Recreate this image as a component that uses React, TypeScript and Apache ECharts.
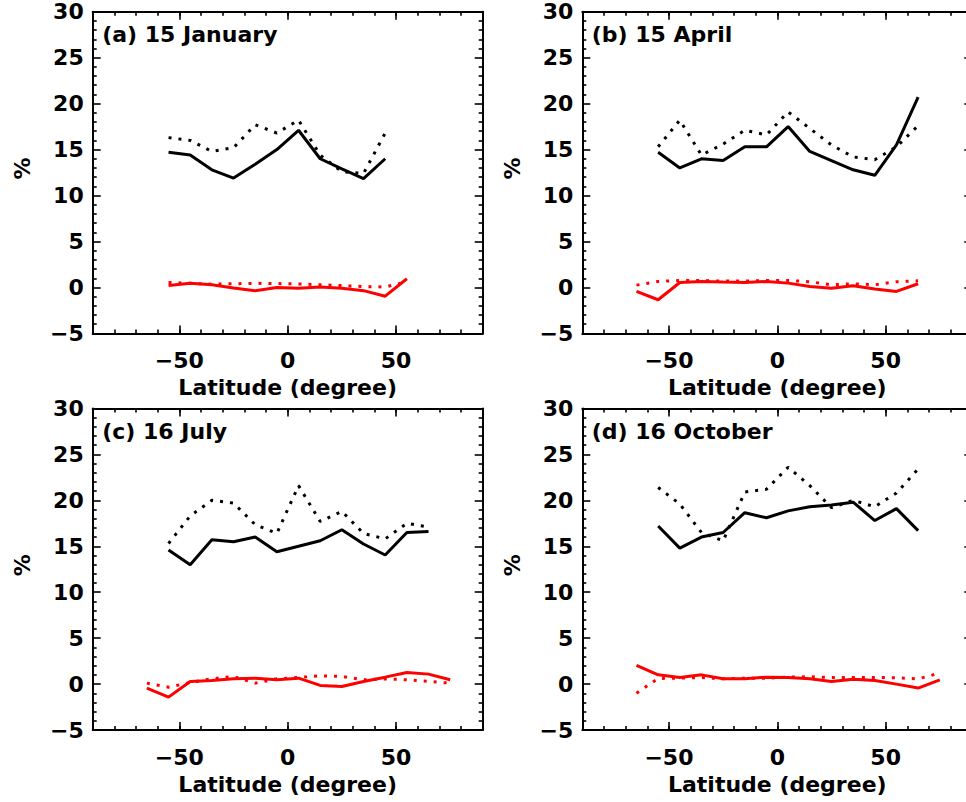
import React, { useEffect, useRef } from 'react';
import * as echarts from 'echarts';

// ---------- Data ----------
const LAT_A_BLACK = [-55, -45, -35, -25, -15, -5, 5, 15, 25, 35, 45];
const LAT_A_RED = [-55, -45, -35, -25, -15, -5, 5, 15, 25, 35, 45, 55];
const LAT_BCD_BLACK = [-55, -45, -35, -25, -15, -5, 5, 15, 25, 35, 45, 55, 65];
const LAT_B_RED = [-65, -55, -45, -35, -25, -15, -5, 5, 15, 25, 35, 45, 55, 65];
const LAT_CD_RED = [-65, -55, -45, -35, -25, -15, -5, 5, 15, 25, 35, 45, 55, 65, 75];

// (a) 15 January
const JAN_BLACK_SOLID = [14.7, 14.4, 12.8, 11.9, 13.4, 15.0, 17.1, 14.0, 12.9, 11.85, 14.0];
const JAN_BLACK_DOTTED = [16.3, 16.0, 14.8, 15.2, 17.7, 16.8, 18.2, 14.4, 12.6, 12.4, 16.8];
const JAN_RED_SOLID = [0.2, 0.45, 0.3, -0.05, -0.35, 0.0, -0.1, 0.05, -0.1, -0.35, -0.95, 0.95];
const JAN_RED_DOTTED = [0.55, 0.45, 0.35, 0.4, 0.45, 0.42, 0.38, 0.3, 0.2, 0.1, 0.05, 0.6];

// (b) 15 April
const APR_BLACK_SOLID = [14.7, 13.0, 14.0, 13.8, 15.3, 15.3, 17.5, 14.8, 13.8, 12.8, 12.2, 15.5, 20.7];
const APR_BLACK_DOTTED = [15.3, 18.2, 14.4, 15.6, 17.1, 16.6, 19.1, 17.3, 15.5, 14.2, 13.9, 15.3, 17.6];
const APR_RED_SOLID = [-0.43, -1.34, 0.54, 0.65, 0.58, 0.54, 0.65, 0.47, 0.1, -0.1, 0.18, -0.18, -0.43, 0.4];
const APR_RED_DOTTED = [0.25, 0.65, 0.76, 0.76, 0.69, 0.69, 0.76, 0.76, 0.62, 0.29, 0.4, 0.29, 0.62, 0.72];

// (c) 16 July
const JUL_BLACK_SOLID = [14.6, 13.0, 15.7, 15.5, 16.0, 14.4, 15.0, 15.6, 16.8, 15.25, 14.05, 16.5, 16.6];
const JUL_BLACK_DOTTED = [15.3, 18.3, 20.0, 19.7, 17.35, 16.4, 21.6, 17.7, 18.8, 16.4, 15.8, 17.5, 17.1];
const JUL_RED_SOLID = [-0.43, -1.41, 0.29, 0.4, 0.58, 0.65, 0.47, 0.65, -0.14, -0.25, 0.29, 0.76, 1.27, 1.09, 0.47];
const JUL_RED_DOTTED = [0.11, -0.33, 0.18, 0.58, 0.83, 0.11, 0.58, 0.72, 0.9, 0.83, 0.47, 0.58, 0.47, 0.29, 0.11];

// (d) 16 October
const OCT_BLACK_SOLID = [17.2, 14.8, 16.0, 16.5, 18.65, 18.1, 18.85, 19.3, 19.5, 19.8, 17.8, 19.1, 16.7];
const OCT_BLACK_DOTTED = [21.4, 19.6, 16.5, 15.6, 20.9, 21.2, 23.6, 21.6, 19.2, 20.0, 19.3, 20.8, 23.4];
const OCT_RED_SOLID = [2.03, 1.01, 0.72, 1.01, 0.58, 0.58, 0.76, 0.72, 0.58, 0.29, 0.54, 0.4, 0.0, -0.43, 0.47];
const OCT_RED_DOTTED = [-0.98, 0.62, 0.65, 0.72, 0.58, 0.65, 0.65, 0.76, 0.8, 0.72, 0.72, 0.72, 0.7, 0.58, 1.2];

const PANEL_TITLES = ['(a) 15 January', '(b) 15 April', '(c) 16 July', '(d) 16 October'];
const X_MAJOR_TICKS = [-50, 0, 50];
const X_AXIS_NAME = 'Latitude (degree)';
const Y_AXIS_NAME = '%';

const PANELS = [
  { title: PANEL_TITLES[0], blackLat: LAT_A_BLACK, redLat: LAT_A_RED, bs: JAN_BLACK_SOLID, bd: JAN_BLACK_DOTTED, rs: JAN_RED_SOLID, rd: JAN_RED_DOTTED },
  { title: PANEL_TITLES[1], blackLat: LAT_BCD_BLACK, redLat: LAT_B_RED, bs: APR_BLACK_SOLID, bd: APR_BLACK_DOTTED, rs: APR_RED_SOLID, rd: APR_RED_DOTTED },
  { title: PANEL_TITLES[2], blackLat: LAT_BCD_BLACK, redLat: LAT_CD_RED, bs: JUL_BLACK_SOLID, bd: JUL_BLACK_DOTTED, rs: JUL_RED_SOLID, rd: JUL_RED_DOTTED },
  { title: PANEL_TITLES[3], blackLat: LAT_BCD_BLACK, redLat: LAT_CD_RED, bs: OCT_BLACK_SOLID, bd: OCT_BLACK_DOTTED, rs: OCT_RED_SOLID, rd: OCT_RED_DOTTED },
];

// ---------- Layout ----------
const FONT_FAMILY = '"DejaVu Sans", sans-serif';
const FONT_SIZE = 22;
const GRID_W = 390;
const GRID_H = 321.7;
const GRID_POS = [
  [92.7, 11.7],
  [582.3, 11.7],
  [92.7, 408.4],
  [582.3, 408.4],
];

const fmt = (v: number) => (v < 0 ? '\u2212' + Math.abs(v) : String(v));

const textStyle = {
  color: '#000',
  fontSize: FONT_SIZE,
  fontWeight: 'bold' as const,
  fontFamily: FONT_FAMILY,
};

const lineBlack = { color: '#000', width: 2 };
const tickLine = { color: '#000', width: 1.6 };

function buildOption() {
  const grid: any[] = [];
  const xAxis: any[] = [];
  const yAxis: any[] = [];
  const series: any[] = [];
  const graphic: any[] = [];

  PANELS.forEach((p, g) => {
    const [left, top] = GRID_POS[g];
    grid.push({ left, top, width: GRID_W, height: GRID_H, show: false, containLabel: false, outerBoundsMode: 'none' });

    const xBase = {
      gridIndex: g,
      type: 'value',
      min: -90,
      max: 90,
      splitLine: { show: false },
      minorSplitLine: { show: false },
    };
    // bottom: minor ticks every 10 + labels
    xAxis.push({
      ...xBase,
      position: 'bottom',
      interval: 10,
      axisLine: { show: true, onZero: false, lineStyle: lineBlack },
      axisTick: { show: true, inside: true, length: 4, lineStyle: tickLine },
      axisLabel: {
        show: true,
        margin: 16,
        ...textStyle,
        formatter: (v: number) => (v % 50 === 0 ? fmt(v) : ''),
      },
      name: X_AXIS_NAME,
      nameLocation: 'middle',
      nameGap: 43,
      nameTextStyle: textStyle,
    });
    // bottom: major ticks
    xAxis.push({
      ...xBase,
      position: 'bottom',
      axisLine: { show: false, onZero: false },
      axisTick: { show: true, inside: true, length: 8, lineStyle: tickLine, customValues: X_MAJOR_TICKS },
      axisLabel: { show: false, customValues: X_MAJOR_TICKS },
    });
    // top: minor
    xAxis.push({
      ...xBase,
      position: 'top',
      interval: 10,
      axisLine: { show: true, onZero: false, lineStyle: lineBlack },
      axisTick: { show: true, inside: true, length: 4, lineStyle: tickLine },
      axisLabel: { show: false },
    });
    // top: major
    xAxis.push({
      ...xBase,
      position: 'top',
      axisLine: { show: false, onZero: false },
      axisTick: { show: true, inside: true, length: 8, lineStyle: tickLine, customValues: X_MAJOR_TICKS },
      axisLabel: { show: false, customValues: X_MAJOR_TICKS },
    });

    const yBase = {
      gridIndex: g,
      type: 'value',
      min: -5,
      max: 30,
      interval: 5,
      splitLine: { show: false },
      minorSplitLine: { show: false },
      axisLine: { show: true, onZero: false, lineStyle: lineBlack },
      axisTick: { show: true, inside: true, length: 8, lineStyle: tickLine },
      minorTick: { show: true, splitNumber: 5, length: 4, lineStyle: tickLine },
    };
    yAxis.push({
      ...yBase,
      position: 'left',
      axisLabel: { show: true, margin: 9, ...textStyle, formatter: (v: number) => fmt(v) },
      name: Y_AXIS_NAME,
      nameLocation: 'middle',
      nameRotate: 90,
      nameGap: 59,
      nameTextStyle: { ...textStyle, padding: [0, 0, 0, 8] },
    });
    yAxis.push({
      ...yBase,
      position: 'right',
      axisLabel: { show: false },
    });

    const xi = g * 4;
    const yi = g * 2;
    const mk = (lat: number[], vals: number[], color: string, dotted: boolean) => ({
      type: 'line',
      xAxisIndex: xi,
      yAxisIndex: yi,
      data: lat.map((x, i) => [x, vals[i]]),
      symbol: 'none',
      showSymbol: false,
      lineStyle: { color, width: 3, type: dotted ? [3, 7] : 'solid', cap: 'butt' },
      silent: true,
    });
    series.push(mk(p.blackLat, p.bd, '#000', true));
    series.push(mk(p.blackLat, p.bs, '#000', false));
    series.push(mk(p.redLat, p.rd, '#ff0000', true));
    series.push(mk(p.redLat, p.rs, '#ff0000', false));

    graphic.push({
      type: 'text',
      x: left + 9.5,
      y: top + 23,
      style: {
        text: p.title,
        fill: '#000',
        font: `bold ${FONT_SIZE}px ${FONT_FAMILY}`,
        verticalAlign: 'middle',
        align: 'left',
      },
      silent: true,
    });
  });

  return {
    animation: false,
    backgroundColor: '#fff',
    grid,
    xAxis,
    yAxis,
    series,
    graphic,
  };
}

export default function App() {
  const ref = useRef<HTMLDivElement>(null);
  useEffect(() => {
    if (!ref.current) return;
    const chart = echarts.init(ref.current, undefined, { renderer: 'svg' });
    chart.setOption(buildOption() as any);
    return () => chart.dispose();
  }, []);
  return (
    <div
      ref={ref}
      style={{ position: 'absolute', left: 0, top: 0, width: 966, height: 802, background: '#fff' }}
    />
  );
}
